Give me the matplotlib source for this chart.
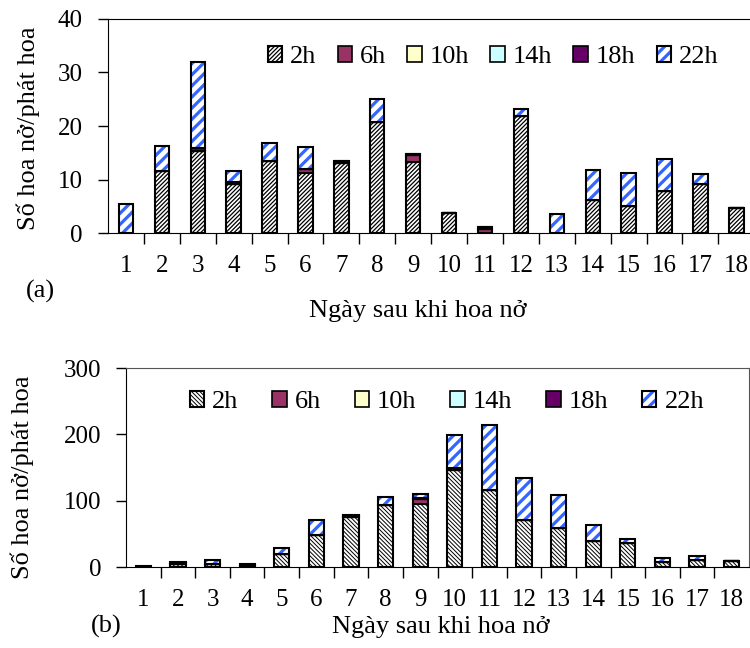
import numpy as np
import matplotlib
matplotlib.use('Agg')
import matplotlib.pyplot as plt
from matplotlib.patches import Patch
from matplotlib.legend_handler import HandlerTuple

plt.rcParams['font.family'] = ['Liberation Serif', 'DejaVu Serif']

days = [str(d) for d in range(1, 19)]
series = ['2h', '6h', '10h', '14h', '18h', '22h']

# (a) so hoa no / phat hoa
a_2h = [0, 11.5, 15.3, 9.2, 13.4, 11.2, 13.0, 20.7, 13.3, 3.8, 0, 21.9, 0, 6.1, 5.1, 7.8, 9.2, 4.6]
a_6h = [0, 0, 0, 0, 0, 0.7, 0, 0, 1.2, 0, 0.7, 0, 0, 0, 0, 0, 0, 0]
a_10h = [0] * 18
a_14h = [0] * 18
a_18h = [0, 0, 0.5, 0.3, 0, 0, 0.5, 0, 0.2, 0, 0.4, 0, 0, 0, 0, 0, 0, 0]
a_22h = [5.4, 4.8, 16.1, 2.1, 3.35, 4.2, 0, 4.3, 0, 0, 0, 1.3, 3.6, 5.6, 6.2, 6.1, 1.9, 0]

# (b)
b_2h = [0.5, 5, 5, 3, 20, 48, 75, 93, 95, 146, 116, 71.5, 59.5, 39, 36, 7.5, 10, 9]
b_6h = [0, 0, 0, 0, 0, 0, 0, 0, 8, 0, 0, 0, 0, 0, 0, 0, 0, 0]
b_10h = [0] * 18
b_14h = [0] * 18
b_18h = [0, 0, 0, 0, 0, 0, 2, 0, 1, 4, 0, 0, 0, 0, 0, 0, 0, 0]
b_22h = [0.5, 2.5, 6, 1.5, 9, 23.5, 1, 12, 6, 49, 97.5, 62.5, 48.5, 24, 5.5, 6.5, 7, 0]

c_6h = '#993366'
c_10h = '#FFFFCC'
c_14h = '#CCFFFF'
c_18h = '#660066'
c_22h = '#3366FF'

TICK_FS = 18
LAB_FS = 19
LEG_FS = 19
HATCH22 = '///'
HATCH22_LW = 2.3


def set_hatch_lw(p, lw):
    if hasattr(p, 'set_hatch_linewidth'):
        p.set_hatch_linewidth(lw)
    else:
        p._hatch_linewidth = lw


def draw_panel(ax, vals, width, hatch2, hatch2_lw):
    x = np.arange(len(days))
    bottom = np.zeros(len(days))
    v2, v6, v10, v14, v18, v22 = [np.array(v, dtype=float) for v in vals]
    with plt.rc_context({'hatch.linewidth': hatch2_lw}):
        ax.bar(x, v2, width, bottom=bottom, color='white', edgecolor='black',
               hatch=hatch2, linewidth=1.5)
    bottom += v2
    for v, c in [(v6, c_6h), (v10, c_10h), (v14, c_14h), (v18, c_18h)]:
        ax.bar(x, v, width, bottom=bottom, color=c, edgecolor='black', linewidth=1.5)
        bottom += v
    with plt.rc_context({'hatch.linewidth': HATCH22_LW}):
        ax.bar(x, v22, width, bottom=bottom, color='white', edgecolor=c_22h,
               hatch=HATCH22, linewidth=0)
    ax.bar(x, v22, width, bottom=bottom, color='none', edgecolor='black', linewidth=1.5)

    ax.set_xticks(x)
    ax.set_xticklabels(days)
    ax.set_xticks(x[:-1] + 0.5, minor=True)
    ax.tick_params(axis='x', which='major', length=0, pad=16, labelsize=TICK_FS)
    ax.tick_params(axis='x', which='minor', length=8, direction='out', width=1)
    ax.tick_params(axis='y', length=7, width=1, pad=11, labelsize=TICK_FS)

    h2 = Patch(facecolor='white', edgecolor='black', hatch=hatch2, linewidth=1.5)
    h22 = (Patch(facecolor='white', edgecolor=c_22h, hatch=HATCH22, linewidth=0),
           Patch(facecolor='none', edgecolor='black', linewidth=1.5))
    others = [Patch(facecolor=c, edgecolor='black', linewidth=1.2)
              for c in [c_6h, c_10h, c_14h, c_18h]]
    return [h2] + others + [h22]


def add_legend(ax, handles, anchor, colspacing, hatch2_lw):
    leg = ax.legend(handles, series, loc='center', bbox_to_anchor=anchor, ncol=6,
                    frameon=False, fontsize=LEG_FS, handlelength=0.55,
                    handleheight=0.55, handletextpad=0.3, columnspacing=colspacing,
                    handler_map={tuple: HandlerTuple(ndivide=1, pad=0)})
    patches = leg.get_patches()
    set_hatch_lw(patches[0], hatch2_lw)
    set_hatch_lw(patches[5], HATCH22_LW)
    return leg


fig = plt.figure(figsize=(7.5, 6.48), dpi=100)

ax1 = fig.add_axes([0.144, 0.6404, 0.856, 0.3303])
handles = draw_panel(ax1, [a_2h, a_6h, a_10h, a_14h, a_18h, a_22h], 0.4, '////////', 0.9)
ax1.set_xlim(-0.5, 17.38)
ax1.set_ylim(0, 40)
ax1.set_yticks([0, 10, 20, 30, 40])
ax1.spines['right'].set_visible(False)
add_legend(ax1, handles, (0.6, 0.822), 0.8, 0.9)

ax2 = fig.add_axes([0.168, 0.125, 0.8307, 0.307])
handles = draw_panel(ax2, [b_2h, b_6h, b_10h, b_14h, b_18h, b_22h], 0.44, '\\\\\\\\\\\\\\\\', 0.7)
ax2.set_xlim(-0.5, 17.5)
ax2.set_ylim(0, 300)
ax2.set_yticks([0, 100, 200, 300])
ax2.spines['top'].set_color('#555555')
ax2.spines['right'].set_color('#555555')
add_legend(ax2, handles, (0.515, 0.83), 1.28, 0.7)

ylab = 'Số hoa nở/phát hoa'
xlab = 'Ngày sau khi hoa nở'
fig.text(28 / 750, 1 - 128 / 648, ylab, rotation=90, ha='center', va='center', fontsize=LAB_FS)
fig.text(22 / 750, 1 - 477 / 648, ylab, rotation=90, ha='center', va='center', fontsize=LAB_FS)
fig.text(418 / 750, 1 - 311 / 648, xlab, ha='center', va='center', fontsize=LAB_FS)
fig.text(441 / 750, 1 - 627 / 648, xlab, ha='center', va='center', fontsize=LAB_FS)
fig.text(40 / 750, 1 - 291 / 648, '(a)', ha='center', va='center', fontsize=LAB_FS)
fig.text(106 / 750, 1 - 626 / 648, '(b)', ha='center', va='center', fontsize=LAB_FS)

fig.savefig('out.png', dpi=100)
plt.close(fig)
